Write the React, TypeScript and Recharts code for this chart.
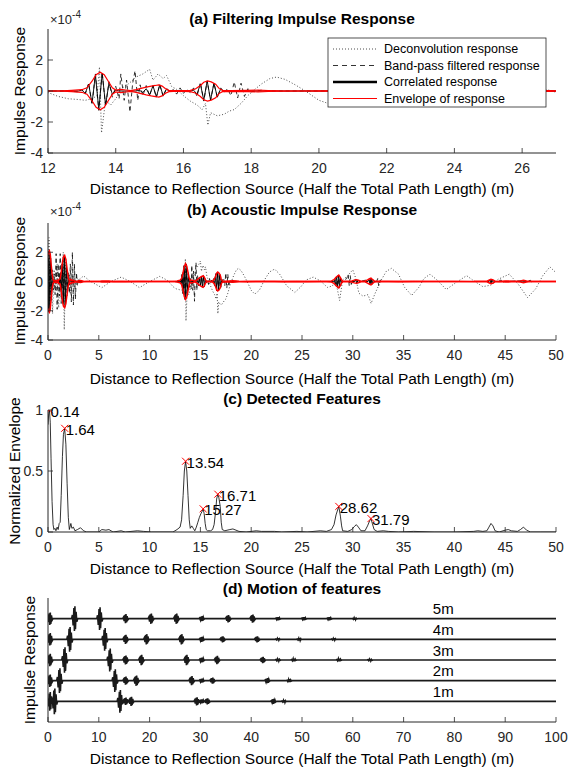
import React from "react";
import { LineChart, Line, XAxis, YAxis, LabelList } from "recharts";

type Pt = [number, number];

const FONT = '"Liberation Sans", Arial, Helvetica, sans-serif';
const INK = "#262626";
const RED = "#ff0000";
const W = 569;
const H = 767;
const PL = 48; // left edge of the axes boxes
const PR = 556; // right edge of the axes boxes

// distance (m) / response (x1e-4)
const deconPts: Pt[] = [
  [0, 0.5], [0.1, 3.0], [0.2, -1.5], [0.3, 1.0], [0.45, -2.2], [0.6, 0.8], [0.75, -0.6], [0.9, 1.2],
  [1.05, -1.8], [1.2, 0.6], [1.35, -1.0], [1.5, 2.0], [1.6, -3.3], [1.75, 1.5], [1.9, -1.0], [2.05, 0.6],
  [2.2, -0.8], [2.4, 0.5], [2.6, -0.4], [2.8, 0.3], [3.0, 0.1], [3.5, 0.38], [4.2, 0], [5.3, -0.42],
  [6.2, 0], [7.2, 0.3], [8.1, 0], [9.0, -0.42], [10.0, 0], [11.0, 0.35], [11.7, 0.1], [12.0, -0.1],
  [12.3, -0.35], [12.6, -0.5], [12.9, -0.55], [13.1, -0.6], [13.3, -0.5], [13.45, -0.3], [13.52, 1.55],
  [13.58, -2.7], [13.7, -0.6], [13.85, -0.9], [14.0, -0.5], [14.2, 0.2], [14.4, 0.5], [14.6, 0.9],
  [14.8, 1.1], [15.0, 1.4], [15.1, 0.7], [15.25, 1.1], [15.4, 0.8], [15.5, 1.0], [15.65, 0.3], [15.8, 0.1],
  [16.0, -0.3], [16.2, -0.65], [16.4, -0.9], [16.55, -1.2], [16.65, -0.8], [16.72, -2.2], [16.8, -1.4],
  [17.0, -1.6], [17.2, -1.5], [17.35, -1.3], [17.5, -1.2], [17.7, -0.8], [17.9, -0.3], [18.05, 0],
  [18.3, 0.45], [18.55, 0.8], [18.75, 0.9], [19.0, 0.75], [19.3, 0.4], [19.6, 0], [20.0, -0.6],
  [20.35, -0.86], [20.8, -0.6], [21.3, 0.1], [21.8, 0.65], [22.3, 0.85], [22.8, 0.5], [23.5, -0.3],
  [24.3, -0.75], [24.9, -0.35], [25.4, 0.1], [26.1, 0.3], [26.8, 0.05], [27.5, -0.4], [28.0, -0.3],
  [28.3, 0.1], [28.7, -1.3], [29.0, 0.1], [29.5, 0.4], [30.0, 0.8], [30.3, 0.2], [30.6, -0.8],
  [31.0, -1.0], [31.5, -0.9], [31.8, -1.5], [32.2, -0.8], [32.8, 0.1], [33.3, 0.7], [33.8, 0.9],
  [34.5, 0.5], [35.1, -0.4], [35.8, -0.95], [36.5, -0.4], [37.0, 0.2], [37.6, 0.5], [38.3, 0.1],
  [39.2, -0.55], [40.1, -0.1], [41.2, 0.4], [42.0, 0], [42.8, -0.35], [43.6, -0.25], [44.3, 0.15],
  [45.4, 0.5], [46.3, -0.2], [47.2, -1.1], [48.0, -0.5], [48.7, 0.4], [49.4, 1.0], [50.0, 0.6],
];

const bandPts: Pt[] = [
  [0, 0], [0.05, 1.5], [0.1, -1.8], [0.2, 1.9], [0.3, -1.4], [0.4, 0.8], [0.5, -0.6], [0.6, 0.5],
  [0.7, -0.9], [0.8, 1.9], [0.9, -1.9], [1.0, 1.2], [1.1, -1.0], [1.2, 1.9], [1.3, -1.5], [1.4, 1.2],
  [1.5, -1.6], [1.6, 1.7], [1.7, -1.7], [1.8, 1.3], [1.9, -0.9], [2.0, 0.6], [2.1, -0.8], [2.2, 1.2],
  [2.3, -1.4], [2.4, 2.0], [2.5, -1.6], [2.6, 1.2], [2.7, -1.2], [2.8, 0.6], [2.9, -0.3], [3.0, 0.1],
  [3.2, 0], [12.5, 0], [12.9, -0.05], [13.0, 0.1], [13.1, -0.2], [13.2, 0.5], [13.3, -0.85],
  [13.4, 1.1], [13.5, -1.25], [13.6, 1.2], [13.7, -1.0], [13.8, 0.6], [13.9, -0.4], [14.0, 0.3],
  [14.1, -0.5], [14.15, 1.1], [14.25, -0.6], [14.32, 0.7], [14.42, -1.35], [14.5, 0.5], [14.57, 1.3],
  [14.65, -0.6], [14.72, 0.4], [14.8, -0.3], [14.9, 0.35], [15.0, -0.3], [15.1, 0.35], [15.2, -0.4],
  [15.3, 0.4], [15.4, -0.35], [15.5, 0.2], [15.6, -0.1], [15.7, 0.1], [15.8, -0.2], [15.9, 0.2],
  [16.0, -0.15], [16.1, 0.1], [16.2, -0.1], [16.3, 0.2], [16.4, -0.35], [16.5, 0.55], [16.6, -0.65],
  [16.7, 0.65], [16.8, -0.6], [16.9, 0.5], [17.0, -0.4], [17.1, 0.2], [17.2, -0.1], [17.3, 0.15],
  [17.4, -0.3], [17.5, 0.58], [17.6, -0.45], [17.7, 0.5], [17.8, -0.35], [17.9, 0.15], [18.0, -0.05],
  [18.3, 0.05], [18.6, 0], [28.2, 0], [28.3, 0.2], [28.45, -0.35], [28.55, 0.42], [28.65, -0.45],
  [28.75, 0.35], [28.85, -0.2], [29.0, 0.05], [29.4, 0.2], [29.55, 0.5], [29.65, -0.3], [29.75, 0.4],
  [29.85, -0.2], [30.0, 0.05], [30.3, 0.12], [30.4, -0.12], [30.5, 0.1], [30.7, 0], [31.6, 0.15],
  [31.7, -0.2], [31.8, 0.22], [31.9, -0.2], [32.0, 0.1], [32.3, -0.1], [32.45, 0.2], [32.55, -0.3],
  [32.7, 0.1], [32.9, 0], [43.4, 0], [43.5, 0.12], [43.6, -0.15], [43.7, 0.14], [43.8, -0.1],
  [44.0, 0], [44.6, 0.1], [44.7, -0.12], [44.9, 0], [46.7, 0.05], [46.8, -0.08], [46.9, 0.05],
  [47.0, 0], [47.5, 0.08], [47.6, -0.1], [47.7, 0], [50, 0],
];

const corrPts: Pt[] = [
  [0, 1.6], [0.05, -1.9], [0.1, 2.05], [0.18, -2.0], [0.26, 1.6], [0.34, -1.0], [0.42, 0.5],
  [0.5, -0.15], [0.6, 0.05], [0.8, -0.05], [1.0, 0.1], [1.1, -0.2], [1.2, 0.5], [1.3, -0.75],
  [1.4, 1.2], [1.5, -1.5], [1.6, 1.75], [1.7, -1.7], [1.8, 1.2], [1.9, -0.7], [2.0, 0.3], [2.1, -0.1],
  [2.2, 0.05], [2.3, 0], [12.9, 0], [13.0, 0.06], [13.1, -0.15], [13.2, 0.45], [13.3, -0.8],
  [13.4, 1.05], [13.5, -1.2], [13.6, 1.15], [13.7, -0.9], [13.8, 0.5], [13.9, -0.2], [14.0, 0.06],
  [14.1, 0], [14.6, 0], [14.7, 0.05], [14.8, -0.1], [14.9, 0.15], [15.0, -0.25], [15.1, 0.33],
  [15.2, -0.38], [15.3, 0.4], [15.4, -0.3], [15.5, 0.12], [15.6, -0.03], [15.7, 0], [16.2, 0],
  [16.3, 0.05], [16.4, -0.2], [16.5, 0.45], [16.6, -0.6], [16.7, 0.65], [16.8, -0.58], [16.9, 0.5],
  [17.0, -0.4], [17.1, 0.15], [17.2, -0.04], [17.3, 0], [28.1, 0], [28.2, 0.08], [28.3, -0.2],
  [28.4, 0.32], [28.5, -0.4], [28.6, 0.43], [28.7, -0.38], [28.8, 0.25], [28.9, -0.1], [29.0, 0.02],
  [29.1, 0], [30.2, 0], [30.3, 0.1], [30.4, -0.13], [30.5, 0.1], [30.6, 0], [31.5, 0], [31.6, 0.12],
  [31.7, -0.2], [31.8, 0.23], [31.9, -0.18], [32.0, 0.08], [32.1, 0], [43.4, 0], [43.5, 0.1],
  [43.6, -0.15], [43.7, 0.13], [43.8, -0.06], [43.9, 0], [46.6, 0], [46.7, 0.05], [46.8, -0.08],
  [46.9, 0.06], [47.0, 0], [50, 0],
];

// normalized envelope (panel c); the red envelope in (a)/(b) is this times its peak
const envNorm: Pt[] = [
  [0, 0.88], [0.07, 0.97], [0.14, 1.0], [0.22, 0.9], [0.3, 0.6], [0.4, 0.25], [0.5, 0.06], [0.58, 0.02],
  [0.68, 0.03], [0.78, 0.01], [0.9, 0.04], [1.0, 0.02], [1.1, 0.07], [1.2, 0.08], [1.3, 0.3],
  [1.42, 0.62], [1.52, 0.8], [1.64, 0.85], [1.76, 0.72], [1.88, 0.4], [2.0, 0.12], [2.1, 0.02],
  [2.25, 0.07], [2.35, 0.03], [2.5, 0.04], [2.65, 0.01], [2.9, 0.02], [3.2, 0.035], [3.5, 0.01],
  [3.8, 0], [5.0, 0], [5.3, 0.02], [5.7, 0.015], [6.0, 0.02], [6.4, 0], [7.2, 0.01], [7.6, 0],
  [8.8, 0.01], [9.4, 0.005], [10.2, 0], [12.3, 0], [12.7, 0.02], [13.0, 0.04], [13.15, 0.1],
  [13.3, 0.3], [13.42, 0.5], [13.54, 0.58], [13.66, 0.5], [13.78, 0.3], [13.9, 0.1], [14.0, 0.03],
  [14.15, 0.05], [14.3, 0.03], [14.45, 0.01], [14.6, 0.04], [14.75, 0.08], [14.9, 0.12], [15.05, 0.15],
  [15.17, 0.17], [15.27, 0.19], [15.37, 0.15], [15.47, 0.07], [15.57, 0.02], [15.7, 0.01], [16.0, 0.01],
  [16.2, 0.02], [16.35, 0.06], [16.5, 0.17], [16.6, 0.27], [16.71, 0.31], [16.82, 0.28], [16.95, 0.21],
  [17.05, 0.08], [17.15, 0.02], [17.4, 0.01], [17.9, 0.02], [18.2, 0.025], [18.5, 0.015], [18.8, 0.005],
  [19.5, 0], [20.5, 0.01], [21.0, 0.005], [22.3, 0.005], [23, 0], [24.5, 0.005], [25.5, 0], [26.8, 0.01],
  [27.4, 0.005], [27.9, 0.02], [28.15, 0.06], [28.35, 0.14], [28.62, 0.21], [28.78, 0.13], [28.9, 0.05],
  [29.0, 0.01], [29.5, 0.005], [29.9, 0.02], [30.15, 0.045], [30.35, 0.06], [30.55, 0.04], [30.8, 0.01],
  [31.2, 0.01], [31.45, 0.05], [31.65, 0.09], [31.79, 0.11], [31.92, 0.07], [32.1, 0.02], [32.4, 0.005],
  [33.0, 0.01], [33.5, 0.005], [34.5, 0], [36, 0.005], [38, 0], [40, 0], [41.9, 0.005], [42.3, 0.01],
  [42.8, 0.005], [43.2, 0.01], [43.4, 0.04], [43.6, 0.07], [43.8, 0.05], [44.0, 0.01], [44.4, 0],
  [45.0, 0.015], [45.3, 0.02], [45.6, 0.01], [46.2, 0.005], [46.5, 0.02], [46.8, 0.04], [47.1, 0.015],
  [47.5, 0], [48.5, 0], [50, 0],
];
const ENV_PEAK = 2.1;

const peakX = [0.14, 1.64, 13.54, 15.27, 16.71, 28.62, 31.79];
const peakY = [1.0, 0.85, 0.58, 0.19, 0.31, 0.21, 0.11];
const peakLabels = ["0.14", "1.64", "13.54", "15.27", "16.71", "28.62", "31.79"];

// panel d: [position m, amplitude] of each echo, per source distance
const traceNames = ["1m", "2m", "3m", "4m", "5m"];
const spikes1m: Pt[] = [[0.4, 0.45], [1.3, 0.62], [14.2, 0.55], [15.3, 0.18], [16.4, 0.22], [29.3, 0.2], [30.3, 0.1], [31.4, 0.15], [44.4, 0.12], [46.5, 0.06]];
const spikes2m: Pt[] = [[0.4, 0.3], [2.3, 0.6], [13.2, 0.55], [15.3, 0.2], [17.4, 0.25], [28.3, 0.22], [30.3, 0.1], [32.4, 0.15], [43.2, 0.12], [47.5, 0.07]];
const spikes3m: Pt[] = [[0.4, 0.3], [3.3, 0.62], [12.2, 0.55], [15.3, 0.22], [18.4, 0.25], [27.3, 0.25], [30.3, 0.12], [33.3, 0.2], [42.3, 0.15], [45.3, 0.06], [48.4, 0.07], [57.3, 0.07], [63.4, 0.05]];
const spikes4m: Pt[] = [[0.4, 0.3], [4.3, 0.6], [11.2, 0.55], [15.3, 0.22], [19.4, 0.25], [26.3, 0.25], [30.3, 0.12], [34.4, 0.15], [41.2, 0.15], [45.3, 0.05], [49.5, 0.06], [56.3, 0.05]];
const spikes5m: Pt[] = [[0.4, 0.3], [5.25, 0.6], [10.2, 0.55], [15.3, 0.22], [20.3, 0.25], [25.3, 0.25], [30.3, 0.12], [35.5, 0.18], [40.3, 0.2], [45.3, 0.08], [50.4, 0.08], [55.4, 0.08], [60.4, 0.05]];
const traceSpikes = [spikes1m, spikes2m, spikes3m, spikes4m, spikes5m];
const traceLabelX = 77.8;

const aTicks = [12, 14, 16, 18, 20, 22, 24, 26];
const bTicks = [0, 5, 10, 15, 20, 25, 30, 35, 40, 45, 50];
const dTicks = [0, 10, 20, 30, 40, 50, 60, 70, 80, 90, 100];
const respTicks = [-4, -2, 0, 2];
const normTicks = [0, 0.5, 1];

// wiggle used to draw one echo as a small burst (dx in m, fraction of amplitude)
const BURST: Pt[] = [[-0.6, 0], [-0.45, 0.3], [-0.3, -0.55], [-0.15, 0.85], [-0.05, -1], [0.05, 1], [0.15, -0.85], [0.28, 0.55], [0.42, -0.25], [0.6, 0]];

const rows = (pts: Pt[], k = 1) => pts.map(([x, y]) => ({ x, y: y * k }));
const deconRows = rows(deconPts);
const bandRows = rows(bandPts);
const corrRows = rows(corrPts);
const envUp = rows(envNorm, ENV_PEAK);
const envDown = rows(envNorm, -ENV_PEAK);
const normRows = rows(envNorm);
const peakRows = peakX.map((x, i) => ({ x, y: peakY[i], label: peakLabels[i] }));

function traceRows(level: number, spikes: Pt[]) {
  const out = [{ x: -1, y: level }];
  spikes.forEach(([m, a]) => BURST.forEach(([dx, f]) => out.push({ x: m + dx, y: level + f * a })));
  out.push({ x: 101, y: level });
  return out;
}
const traceLabelRows = traceNames.map((label, i) => ({ x: traceLabelX, y: i + 1 + 0.47, label }));

function XTick(props: any) {
  const { x, y, payload } = props;
  return (
    <g>
      <line x1={x} y1={y} x2={x} y2={y - 5} stroke={INK} strokeWidth={0.8} />
      <text x={x} y={y + 15} textAnchor="middle" dominantBaseline="central" fontSize={14} fontFamily={FONT} fill={INK}>
        {payload.value}
      </text>
    </g>
  );
}

function YTick(props: any) {
  const { x, y, payload } = props;
  return (
    <g>
      <line x1={x} y1={y} x2={x + 5} y2={y} stroke={INK} strokeWidth={0.8} />
      <text x={x - 5} y={y} textAnchor="end" dominantBaseline="central" fontSize={14} fontFamily={FONT} fill={INK}>
        {payload.value}
      </text>
    </g>
  );
}

function XMark(props: any) {
  const { cx, cy } = props;
  if (cx == null || cy == null) return null;
  const s = 3.5;
  return (
    <g stroke={RED} strokeWidth={1}>
      <line x1={cx - s} y1={cy - s} x2={cx + s} y2={cy + s} />
      <line x1={cx - s} y1={cy + s} x2={cx + s} y2={cy - s} />
    </g>
  );
}

function PeakLabel(props: any) {
  const { x, y, value } = props;
  return (
    <text x={x + 1} y={y + 1} dominantBaseline="central" fontSize={15} fontFamily={FONT} fill="#000">
      {value}
    </text>
  );
}

function TraceLabel(props: any) {
  const { x, y, value } = props;
  return (
    <text x={x} y={y} textAnchor="middle" dominantBaseline="central" fontSize={15} fontFamily={FONT} fill="#000">
      {value}
    </text>
  );
}

function Panel({ top, h, children }: { top: number; h: number; children: React.ReactNode }) {
  const pad = 8;
  return (
    <div style={{ position: "absolute", left: 0, top: top - pad }}>
      <LineChart width={W} height={h + pad + 34} margin={{ top: pad, right: W - PR, bottom: 0, left: 0 }}>
        {children}
      </LineChart>
    </div>
  );
}

function responseLines(redWidth: number) {
  return [
    <Line key="d" data={deconRows} dataKey="y" stroke="#4d4d4d" strokeWidth={1} strokeDasharray="1 2" dot={false} isAnimationActive={false} />,
    <Line key="b" data={bandRows} dataKey="y" stroke="#000" strokeWidth={0.8} strokeDasharray="4 3" dot={false} isAnimationActive={false} />,
    <Line key="c" data={corrRows} dataKey="y" stroke="#000" strokeWidth={0.9} dot={false} isAnimationActive={false} />,
    <Line key="u" data={envUp} dataKey="y" stroke={RED} strokeWidth={redWidth} dot={false} isAnimationActive={false} />,
    <Line key="l" data={envDown} dataKey="y" stroke={RED} strokeWidth={redWidth} dot={false} isAnimationActive={false} />,
  ];
}

const axisProps = { tickSize: 0, tickMargin: 0, interval: 0 as const, allowDataOverflow: true, axisLine: { stroke: INK } };

const titles = [
  { y: 18, text: "(a) Filtering Impulse Response" },
  { y: 209, text: "(b) Acoustic Impulse Response" },
  { y: 398, text: "(c) Detected Features" },
  { y: 588, text: "(d) Motion of features" },
];
const xLabelY = [188, 378, 568, 758];
const yLabels = [
  { x: 19, y: 91, text: "Impulse Response" },
  { x: 19, y: 281, text: "Impulse Response" },
  { x: 14, y: 471, text: "Normalized Envelope" },
  { x: 29, y: 660, text: "Impulse Response" },
];
const legendItems = [
  { text: "Deconvolution response", stroke: "#4d4d4d", width: 1, dash: "1 2" },
  { text: "Band-pass filtered response", stroke: "#000", width: 0.8, dash: "5 4" },
  { text: "Correlated response", stroke: "#000", width: 2.5, dash: undefined },
  { text: "Envelope of response", stroke: RED, width: 1.2, dash: undefined },
];

export default function App() {
  const cx = (PL + PR) / 2;
  return (
    <div style={{ position: "absolute", left: 0, top: 0, width: W, height: H, background: "#fff" }}>
      {/* (a) */}
      <Panel top={29} h={124}>
        <XAxis dataKey="x" type="number" domain={[12, 27]} ticks={aTicks} tick={XTick} height={34} {...axisProps} />
        <YAxis type="number" domain={[-4, 4]} ticks={respTicks} tick={YTick} width={PL} {...axisProps} />
        {responseLines(1.2)}
      </Panel>

      {/* (b) */}
      <Panel top={223} h={117}>
        <XAxis dataKey="x" type="number" domain={[0, 50]} ticks={bTicks} tick={XTick} height={34} {...axisProps} />
        <YAxis type="number" domain={[-4, 4]} ticks={respTicks} tick={YTick} width={PL} {...axisProps} />
        {responseLines(1.5)}
      </Panel>

      {/* (c) */}
      <Panel top={410} h={122}>
        <XAxis dataKey="x" type="number" domain={[0, 50]} ticks={bTicks} tick={XTick} height={34} {...axisProps} />
        <YAxis type="number" domain={[0, 1]} ticks={normTicks} tick={YTick} width={PL} {...axisProps} />
        <Line data={normRows} dataKey="y" stroke="#000" strokeWidth={0.8} dot={false} isAnimationActive={false} />
        <Line data={peakRows} dataKey="y" stroke="none" dot={XMark} isAnimationActive={false}>
          <LabelList dataKey="label" content={PeakLabel} />
        </Line>
      </Panel>

      {/* (d) */}
      <Panel top={598} h={124}>
        <XAxis dataKey="x" type="number" domain={[0, 100]} ticks={dTicks} tick={XTick} height={34} {...axisProps} />
        <YAxis type="number" domain={[0, 6]} tick={false} width={PL} {...axisProps} />
        {traceSpikes.map((sp, i) => (
          <Line key={i} data={traceRows(i + 1, sp)} dataKey="y" stroke="#1a1a1a" strokeWidth={1.6} dot={false} isAnimationActive={false} />
        ))}
        <Line data={traceLabelRows} dataKey="y" stroke="none" dot={false} isAnimationActive={false}>
          <LabelList dataKey="label" content={TraceLabel} />
        </Line>
      </Panel>

      <svg width={W} height={H} style={{ position: "absolute", left: 0, top: 0, pointerEvents: "none" }} fontFamily={FONT}>
        {titles.map((t) => (
          <text key={t.text} x={cx} y={t.y} textAnchor="middle" dominantBaseline="central" fontSize={15.5} fontWeight="bold" fill="#000">
            {t.text}
          </text>
        ))}
        {xLabelY.map((y, i) => (
          <text key={i} x={cx} y={y} textAnchor="middle" dominantBaseline="central" fontSize={15.5} fill="#000">
            Distance to Reflection Source (Half the Total Path Length) (m)
          </text>
        ))}
        {yLabels.map((l, i) => (
          <text key={i} x={l.x} y={l.y} transform={`rotate(-90 ${l.x} ${l.y})`} textAnchor="middle" dominantBaseline="central" fontSize={15.5} fill="#000">
            {l.text}
          </text>
        ))}
        {[24, 216].map((y) => (
          <text key={y} x={50} y={y} fontSize={13} fill={INK}>
            ×10<tspan dy={-6} fontSize={10}>-4</tspan>
          </text>
        ))}
        <rect x={328} y={38} width={218} height={69} fill="#fff" stroke={INK} strokeWidth={0.8} />
        {legendItems.map((it, i) => {
          const y = 49 + i * 16.5;
          return (
            <g key={it.text}>
              <line x1={333} y1={y} x2={377} y2={y} stroke={it.stroke} strokeWidth={it.width} strokeDasharray={it.dash} />
              <text x={384} y={y} dominantBaseline="central" fontSize={12.5} fill="#000">
                {it.text}
              </text>
            </g>
          );
        })}
      </svg>
    </div>
  );
}
